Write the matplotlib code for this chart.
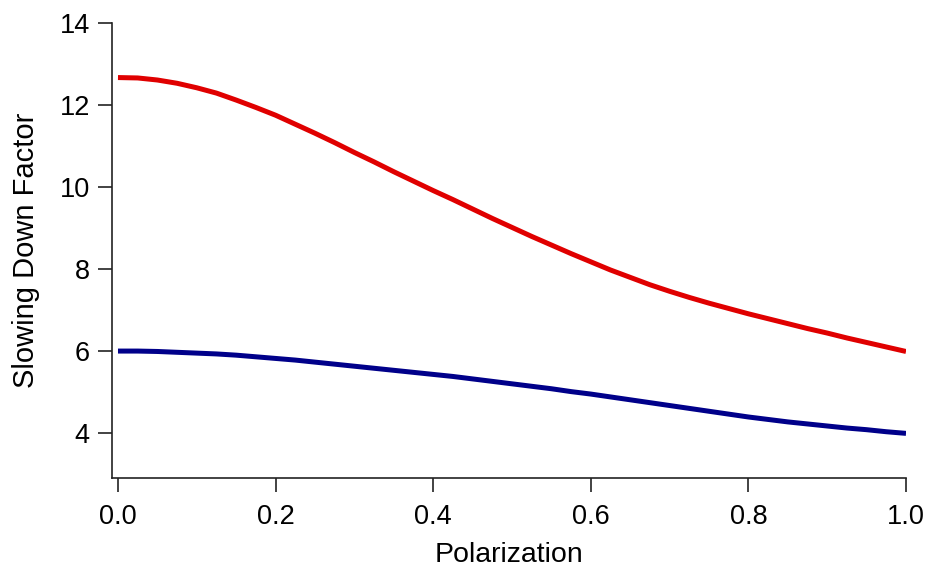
import matplotlib
matplotlib.use("Agg")
import matplotlib.pyplot as plt

polarization = [0.000, 0.025, 0.050, 0.075, 0.100, 0.125, 0.150, 0.175, 0.200, 0.225,
                0.250, 0.275, 0.300, 0.325, 0.350, 0.375, 0.400, 0.425, 0.450, 0.475,
                0.500, 0.525, 0.550, 0.575, 0.600, 0.625, 0.650, 0.675, 0.700, 0.725,
                0.750, 0.775, 0.800, 0.825, 0.850, 0.875, 0.900, 0.925, 0.950, 0.975,
                1.000]
red_factor = [12.68, 12.67, 12.62, 12.54, 12.43, 12.30, 12.13, 11.95, 11.76, 11.54,
              11.32, 11.09, 10.85, 10.62, 10.38, 10.15, 9.92, 9.70, 9.47, 9.24,
              9.02, 8.80, 8.59, 8.38, 8.18, 7.98, 7.80, 7.62, 7.46, 7.31,
              7.17, 7.04, 6.91, 6.79, 6.67, 6.55, 6.44, 6.32, 6.21, 6.10,
              5.99]
blue_factor = [6.00, 6.00, 5.99, 5.97, 5.95, 5.93, 5.90, 5.86, 5.82, 5.78,
               5.73, 5.68, 5.63, 5.58, 5.53, 5.48, 5.43, 5.38, 5.32, 5.26,
               5.20, 5.14, 5.08, 5.01, 4.95, 4.88, 4.81, 4.74, 4.67, 4.60,
               4.53, 4.46, 4.39, 4.33, 4.27, 4.22, 4.17, 4.12, 4.08, 4.03,
               3.99]
xticks = [0.0, 0.2, 0.4, 0.6, 0.8, 1.0]
xtick_labels = ["0.0", "0.2", "0.4", "0.6", "0.8", "1.0"]
yticks = [4, 6, 8, 10, 12, 14]

plt.rcParams['font.family'] = ['Liberation Sans', 'DejaVu Sans']

fig = plt.figure(figsize=(9.3, 5.69), dpi=100)
ax = fig.add_axes([112/930, 1 - 478/569, (906-112)/930, (478-23.5)/569])

ax.plot(polarization, red_factor, color='#e00000', lw=3.6, solid_capstyle='butt',
        solid_joinstyle='round')
ax.plot(polarization, blue_factor, color='#00008a', lw=3.6, solid_capstyle='butt',
        solid_joinstyle='round')

ax.set_xlim(-0.0076, 1.0)
ax.set_ylim(2.9, 14.0)
ax.set_xticks(xticks)
ax.set_xticklabels(xtick_labels)
ax.set_yticks(yticks)

for s in ['top', 'right']:
    ax.spines[s].set_visible(False)
for s in ['left', 'bottom']:
    ax.spines[s].set_linewidth(1.2)
    ax.spines[s].set_color('#222222')

ax.tick_params(axis='both', direction='out', length=10, width=1.2, color='#222222',
               labelsize=19.5, labelcolor='#000000')
ax.tick_params(axis='x', pad=9)
ax.tick_params(axis='y', pad=6)

ax.set_xlabel("Polarization", fontsize=20.5, color='#000000', labelpad=8)
ax.set_ylabel("Slowing Down Factor", fontsize=21, color='#000000', labelpad=14)

fig.savefig("out.png", dpi=100)
